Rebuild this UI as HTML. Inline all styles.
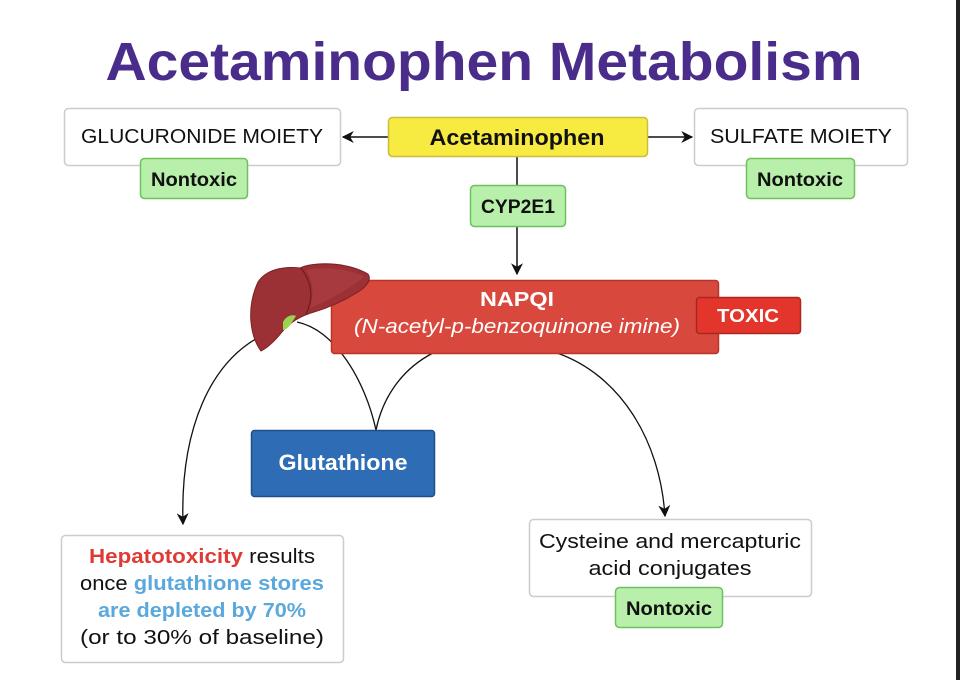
<!DOCTYPE html>
<html><head><meta charset="utf-8"><style>
html,body{margin:0;padding:0;background:#fff;width:960px;height:680px;overflow:hidden}
svg{display:block}
text{font-family:"Liberation Sans",sans-serif}
</style></head><body>
<svg width="960" height="680" viewBox="0 0 960 680" xmlns="http://www.w3.org/2000/svg">
<defs>
<marker id="ah" viewBox="0 0 10 10" refX="9" refY="5" markerWidth="12" markerHeight="12" orient="auto" markerUnits="userSpaceOnUse">
<path d="M0,0 L10,5 L0,10 L3,5 z" fill="#111"/>
</marker>
</defs>
<rect x="0" y="0" width="960" height="680" fill="#fff"/>
<rect x="956" y="0" width="4" height="680" fill="#222"/>

<text x="484" y="80" text-anchor="middle" font-size="54" font-weight="bold" fill="#4a2c8a" textLength="757" lengthAdjust="spacingAndGlyphs">Acetaminophen Metabolism</text>

<!-- connectors -->
<line x1="388" y1="137" x2="343" y2="137" stroke="#111" stroke-width="1.5" marker-end="url(#ah)"/>
<line x1="648" y1="137" x2="692" y2="137" stroke="#111" stroke-width="1.5" marker-end="url(#ah)"/>
<line x1="517" y1="157" x2="517" y2="274" stroke="#111" stroke-width="1.5" marker-end="url(#ah)"/>
<path d="M297,322 C335,330 365,380 376,430" fill="none" stroke="#111" stroke-width="1.3"/>
<path d="M433,353 C400,370 382,400 376,430" fill="none" stroke="#111" stroke-width="1.3"/>
<path d="M265,334 C210,360 180,430 183,524" fill="none" stroke="#111" stroke-width="1.3" marker-end="url(#ah)"/>
<path d="M557,353 C620,375 660,440 665,516" fill="none" stroke="#111" stroke-width="1.3" marker-end="url(#ah)"/>

<!-- top boxes -->
<rect x="64.5" y="108.5" width="276" height="57" rx="4" fill="#fff" stroke="#ccc" stroke-width="1.5"/>
<text x="202" y="143" text-anchor="middle" font-size="20" fill="#111" textLength="242" lengthAdjust="spacingAndGlyphs">GLUCURONIDE MOIETY</text>
<rect x="140.5" y="158.5" width="107" height="40" rx="4" fill="#b8f0ab" stroke="#6cc25c" stroke-width="1.5"/>
<text x="194" y="186" text-anchor="middle" font-size="19" font-weight="bold" fill="#111" textLength="86" lengthAdjust="spacingAndGlyphs">Nontoxic</text>

<rect x="694.5" y="108.5" width="213" height="57" rx="4" fill="#fff" stroke="#ccc" stroke-width="1.5"/>
<text x="801" y="143" text-anchor="middle" font-size="20" fill="#111" textLength="182" lengthAdjust="spacingAndGlyphs">SULFATE MOIETY</text>
<rect x="746.5" y="158.5" width="108" height="40" rx="4" fill="#b8f0ab" stroke="#6cc25c" stroke-width="1.5"/>
<text x="800" y="186" text-anchor="middle" font-size="19" font-weight="bold" fill="#111" textLength="86" lengthAdjust="spacingAndGlyphs">Nontoxic</text>

<rect x="388.5" y="117.5" width="259" height="39" rx="4" fill="#f7eb42" stroke="#cbbd3d" stroke-width="1.5"/>
<text x="517" y="145" text-anchor="middle" font-size="22" font-weight="bold" fill="#111" textLength="175" lengthAdjust="spacingAndGlyphs">Acetaminophen</text>

<rect x="470.5" y="185.5" width="95" height="41" rx="4" fill="#b8f0ab" stroke="#6cc25c" stroke-width="1.5"/>
<text x="518" y="213" text-anchor="middle" font-size="19" font-weight="bold" fill="#111" textLength="74" lengthAdjust="spacingAndGlyphs">CYP2E1</text>

<!-- NAPQI -->
<rect x="331.5" y="280.5" width="387" height="73" rx="3" fill="#d9483d" stroke="#b8352c" stroke-width="1.5"/>
<text x="517" y="306" text-anchor="middle" font-size="20" font-weight="bold" fill="#fff" textLength="74" lengthAdjust="spacingAndGlyphs">NAPQI</text>
<text x="517" y="333" text-anchor="middle" font-size="20" font-style="italic" fill="#fff" textLength="326" lengthAdjust="spacingAndGlyphs">(N-acetyl-p-benzoquinone imine)</text>
<rect x="696.5" y="297.5" width="104" height="36" rx="3" fill="#e3352b" stroke="#a82820" stroke-width="1.5"/>
<text x="748" y="322" text-anchor="middle" font-size="18" font-weight="bold" fill="#fff" textLength="62" lengthAdjust="spacingAndGlyphs">TOXIC</text>

<!-- liver -->
<path d="M258,282 C266,270 282,266 300,268 C312,262 345,261 368,274 C372,280 366,287 358,292 C342,302 328,308 314,312 C300,316 290,322 282,332 C274,342 267,348 261,351 C250,336 246,308 258,282 Z" fill="#9b3035" stroke="#7a2026" stroke-width="1"/>
<path d="M301,268 C312,282 314,298 306,314" fill="none" stroke="#6e1c22" stroke-width="1.2"/>
<path d="M306,270 C330,266 352,270 364,277 C345,292 325,302 310,308 C314,295 314,282 306,270 Z" fill="#a63a3f"/>
<path d="M283,322 C286,316 292,314 296,316 C292,322 288,330 283,330 Z" fill="#9ad44f"/>

<!-- glutathione -->
<rect x="251.5" y="430.5" width="183" height="66" rx="3" fill="#2e6db5" stroke="#1f4f88" stroke-width="1.5"/>
<text x="343" y="470" text-anchor="middle" font-size="22" font-weight="bold" fill="#fff" textLength="129" lengthAdjust="spacingAndGlyphs">Glutathione</text>

<!-- hepatotoxicity -->
<rect x="61.5" y="535.5" width="282" height="127" rx="4" fill="#fff" stroke="#ccc" stroke-width="1.5"/>
<text x="202" y="563" text-anchor="middle" font-size="20" fill="#111" textLength="226" lengthAdjust="spacingAndGlyphs"><tspan fill="#df3b34" font-weight="bold">Hepatotoxicity</tspan> results</text>
<text x="202" y="590" text-anchor="middle" font-size="20" fill="#111" textLength="244" lengthAdjust="spacingAndGlyphs">once <tspan fill="#5aa8dc" font-weight="bold">glutathione stores</tspan></text>
<text x="202" y="617" text-anchor="middle" font-size="20" font-weight="bold" fill="#5aa8dc" textLength="208" lengthAdjust="spacingAndGlyphs">are depleted by 70%</text>
<text x="202" y="644" text-anchor="middle" font-size="20" fill="#111" textLength="244" lengthAdjust="spacingAndGlyphs">(or to 30% of baseline)</text>

<!-- cysteine -->
<rect x="529.5" y="519.5" width="282" height="77" rx="4" fill="#fff" stroke="#ccc" stroke-width="1.5"/>
<text x="670" y="548" text-anchor="middle" font-size="20" fill="#111" textLength="262" lengthAdjust="spacingAndGlyphs">Cysteine and mercapturic</text>
<text x="670" y="575" text-anchor="middle" font-size="20" fill="#111" textLength="163" lengthAdjust="spacingAndGlyphs">acid conjugates</text>
<rect x="615.5" y="587.5" width="107" height="40" rx="4" fill="#b8f0ab" stroke="#6cc25c" stroke-width="1.5"/>
<text x="669" y="615" text-anchor="middle" font-size="19" font-weight="bold" fill="#111" textLength="86" lengthAdjust="spacingAndGlyphs">Nontoxic</text>
</svg>
</body></html>
